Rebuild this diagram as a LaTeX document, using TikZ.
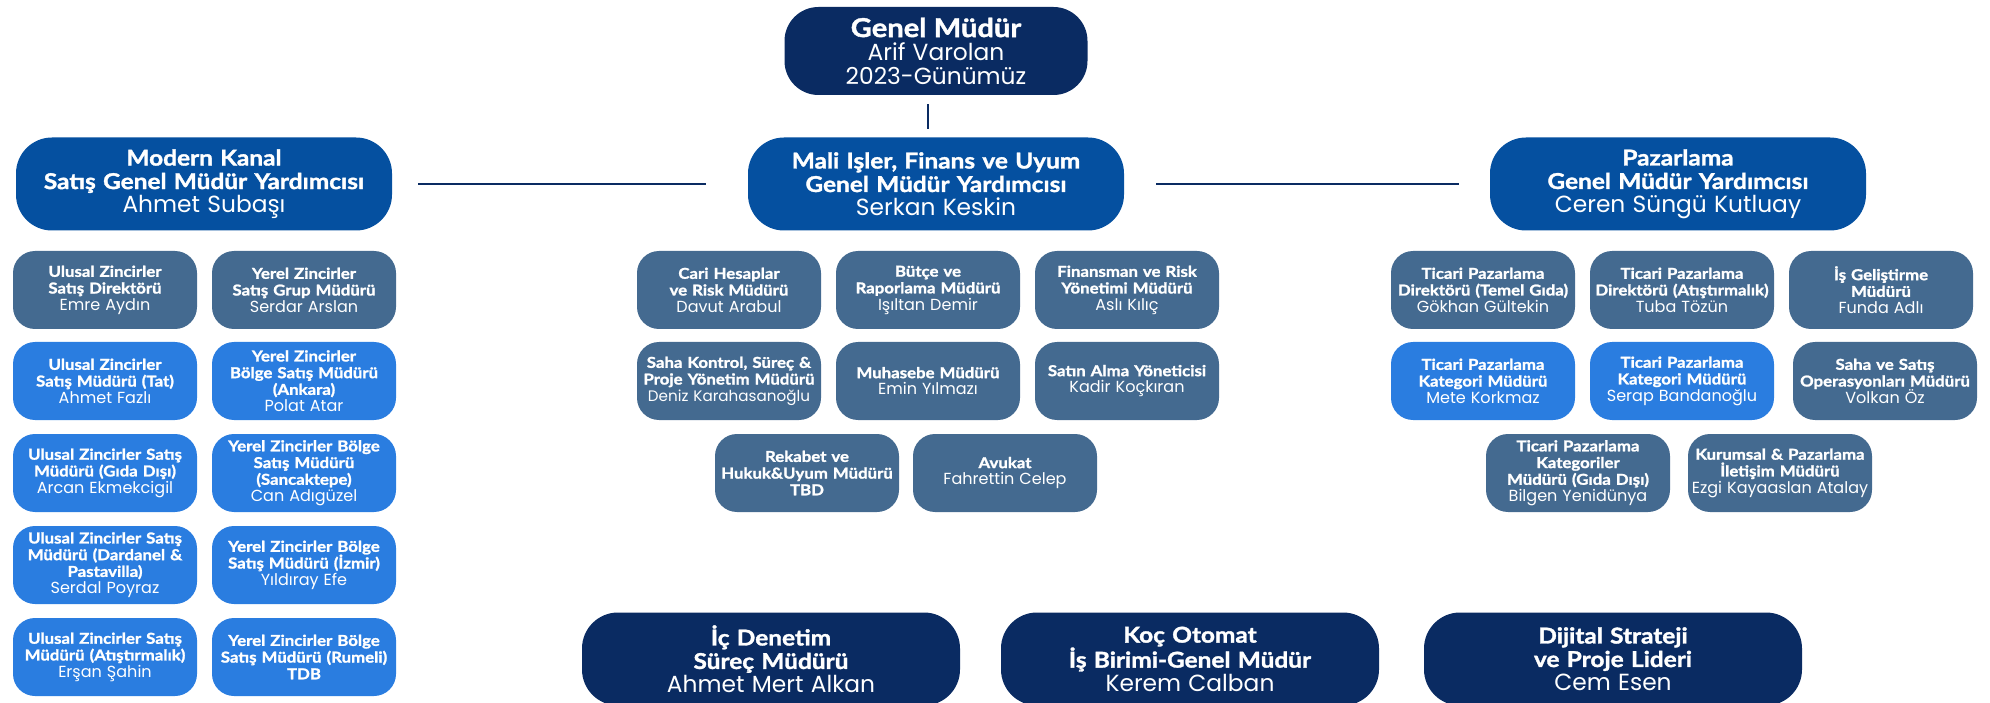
\documentclass[tikz,border=0pt]{standalone}
\usepackage{fontspec}
\setmainfont{Lato}[FakeStretch=1.12, BoldFeatures={FakeBold=1.5}]
\newfontfamily\namefont{Poppins}[Scale=1.07]
\usepackage{tikz}
\definecolor{lacivert}{HTML}{0A2B62}
\definecolor{koyumavi}{HTML}{0550A0}
\definecolor{grimavi}{HTML}{446A90}
\definecolor{acikmavi}{HTML}{2A7DE0}
\tikzstyle{kutu} = [rounded corners=22pt, text=white, align=center, inner sep=0pt, minimum width=184pt, minimum height=78pt, text width=182pt, font=\fontsize{15}{16.7}\selectfont]
\tikzstyle{gri} = [kutu, fill=grimavi]
\tikzstyle{mavi} = [kutu, fill=acikmavi]
\tikzstyle{gmy} = [rounded corners=36pt, text=white, align=center, inner sep=0pt, minimum width=376pt, minimum height=93pt, text width=370pt, fill=koyumavi, font=\fontsize{21.8}{23.5}\selectfont]
\tikzstyle{alt} = [gmy, fill=lacivert, minimum width=378pt]
\tikzstyle{ust} = [gmy, fill=lacivert, minimum width=303pt, minimum height=88pt, text width=300pt, rounded corners=34pt]
\tikzstyle{hat} = [draw=lacivert, line width=1.3pt]

\begin{document}
\begin{tikzpicture}[x=1pt, y=-1pt]
	  \useasboundingbox (0,0) rectangle (1990,703);

	  % genel mudur ve yardimcilar
	  \node (gm) at (936,51) [ust] {{\bfseries\fontsize{26}{23}\selectfont Genel Müdür}\\{\namefont Arif Varolan\\2023-Günümüz}};
	  \node (mk) at (204,184) [gmy] {{\bfseries Modern Kanal\\Satış Genel Müdür Yardımcısı}\\{\namefont Ahmet Subaşı}};
	  \node (mf) at (936,184) [gmy] {{\bfseries Mali Işler, Finans ve Uyum\\Genel Müdür Yardımcısı}\\{\namefont Serkan Keskin}};
	  \node (pz) at (1678,184) [gmy] {{\bfseries Pazarlama\\Genel Müdür Yardımcısı}\\{\namefont Ceren Süngü Kutluay}};

	  % modern kanal
	  \node (a1) at (105,290) [gri] {{\bfseries Ulusal Zincirler\\Satış Direktörü}\\{\namefont Emre Aydın}};
	  \node (a2) at (304,290) [gri] {{\bfseries Yerel Zincirler\\Satış Grup Müdürü}\\{\namefont Serdar Arslan}};
	  \node (a3) at (105,381) [mavi] {{\bfseries Ulusal Zincirler\\Satış Müdürü (Tat)}\\{\namefont Ahmet Fazlı}};
	  \node (a4) at (304,381) [mavi] {{\bfseries Yerel Zincirler\\Bölge Satış Müdürü\\(Ankara)}\\{\namefont Polat Atar}};
	  \node (a5) at (105,473) [mavi] {{\bfseries Ulusal Zincirler Satış\\Müdürü (Gıda Dışı)}\\{\namefont Arcan Ekmekcigil}};
	  \node (a6) at (304,473) [mavi] {{\bfseries Yerel Zincirler Bölge\\Satış Müdürü\\(Sancaktepe)}\\{\namefont Can Adıgüzel}};
	  \node (a7) at (105,565) [mavi] {{\bfseries Ulusal Zincirler Satış\\Müdürü (Dardanel \&\\Pastavilla)}\\{\namefont Serdal Poyraz}};
	  \node (a8) at (304,565) [mavi] {{\bfseries Yerel Zincirler Bölge\\Satış Müdürü (İzmir)}\\{\namefont Yıldıray Efe}};
	  \node (a9) at (105,657) [mavi] {{\bfseries Ulusal Zincirler Satış\\Müdürü (Atıştırmalık)}\\{\namefont Erşan Şahin}};
	  \node (a10) at (304,657) [mavi] {{\bfseries Yerel Zincirler Bölge\\Satış Müdürü (Rumeli)\\TDB}};

	  % mali isler
	  \node (b1) at (729,290) [gri] {{\bfseries Cari Hesaplar\\ve Risk Müdürü}\\{\namefont Davut Arabul}};
	  \node (b2) at (928,290) [gri] {{\bfseries Bütçe ve\\Raporlama Müdürü}\\{\namefont Işıltan Demir}};
	  \node (b3) at (1127,290) [gri] {{\bfseries Finansman ve Risk\\Yönetimi Müdürü}\\{\namefont Aslı Kılıç}};
	  \node (b4) at (729,381) [gri] {{\bfseries Saha Kontrol, Süreç \&\\Proje Yönetim Müdürü}\\{\namefont\fontsize{14.2}{16.7}\selectfont Deniz Karahasanoğlu}};
	  \node (b5) at (928,381) [gri] {{\bfseries Muhasebe Müdürü}\\{\namefont Emin Yılmazı}};
	  \node (b6) at (1127,381) [gri] {{\bfseries Satın Alma Yöneticisi}\\{\namefont Kadir Koçkıran}};
	  \node (b7) at (807,473) [gri] {{\bfseries Rekabet ve\\Hukuk\&Uyum Müdürü\\TBD}};
	  \node (b8) at (1005,473) [gri] {{\bfseries Avukat}\\{\namefont Fahrettin Celep}};

	  % pazarlama
	  \node (c1) at (1483,290) [gri] {{\bfseries Ticari Pazarlama\\Direktörü (Temel Gıda)}\\{\namefont Gökhan Gültekin}};
	  \node (c2) at (1682,290) [gri] {{\bfseries Ticari Pazarlama\\Direktörü (Atıştırmalık)}\\{\namefont Tuba Tözün}};
	  \node (c3) at (1881,290) [gri] {{\bfseries İş Geliştirme\\Müdürü}\\{\namefont Funda Adlı}};
	  \node (c4) at (1483,381) [mavi] {{\bfseries Ticari Pazarlama\\Kategori Müdürü}\\{\namefont Mete Korkmaz}};
	  \node (c5) at (1682,381) [mavi] {{\bfseries Ticari Pazarlama\\Kategori Müdürü}\\{\namefont Serap Bandanoğlu}};
	  \node (c6) at (1885,381) [gri] {{\bfseries Saha ve Satış\\Operasyonları Müdürü}\\{\namefont Volkan Öz}};
	  \node (c7) at (1578,473) [gri] {{\bfseries Ticari Pazarlama\\Kategoriler\\Müdürü (Gıda Dışı)}\\{\namefont Bilgen Yenidünya}};
	  \node (c8) at (1780,473) [gri] {{\bfseries Kurumsal \& Pazarlama\\İletişim Müdürü}\\{\namefont Ezgi Kayaaslan Atalay}};

	  % alt sira
	  \node (d1) at (771,659) [alt] {{\bfseries İç Denetim\\Süreç Müdürü}\\{\namefont Ahmet Mert Alkan}};
	  \node (d2) at (1190,659) [alt] {{\bfseries Koç Otomat\\İş Birimi-Genel Müdür}\\{\namefont Kerem Calban}};
	  \node (d3) at (1613,659) [alt] {{\bfseries Dijital Strateji\\ve Proje Lideri}\\{\namefont Cem Esen}};

	  \draw [hat] ([xshift=-8pt, yshift=-9pt]gm.south) -- ([xshift=-8pt, yshift=8pt]mf.north);
	  \draw [hat] ([xshift=26pt]mk.east) -- ([xshift=-42pt]mf.west);
	  \draw [hat] ([xshift=32pt]mf.east) -- ([xshift=-31pt]pz.west);
	\end{tikzpicture}
\end{document}
